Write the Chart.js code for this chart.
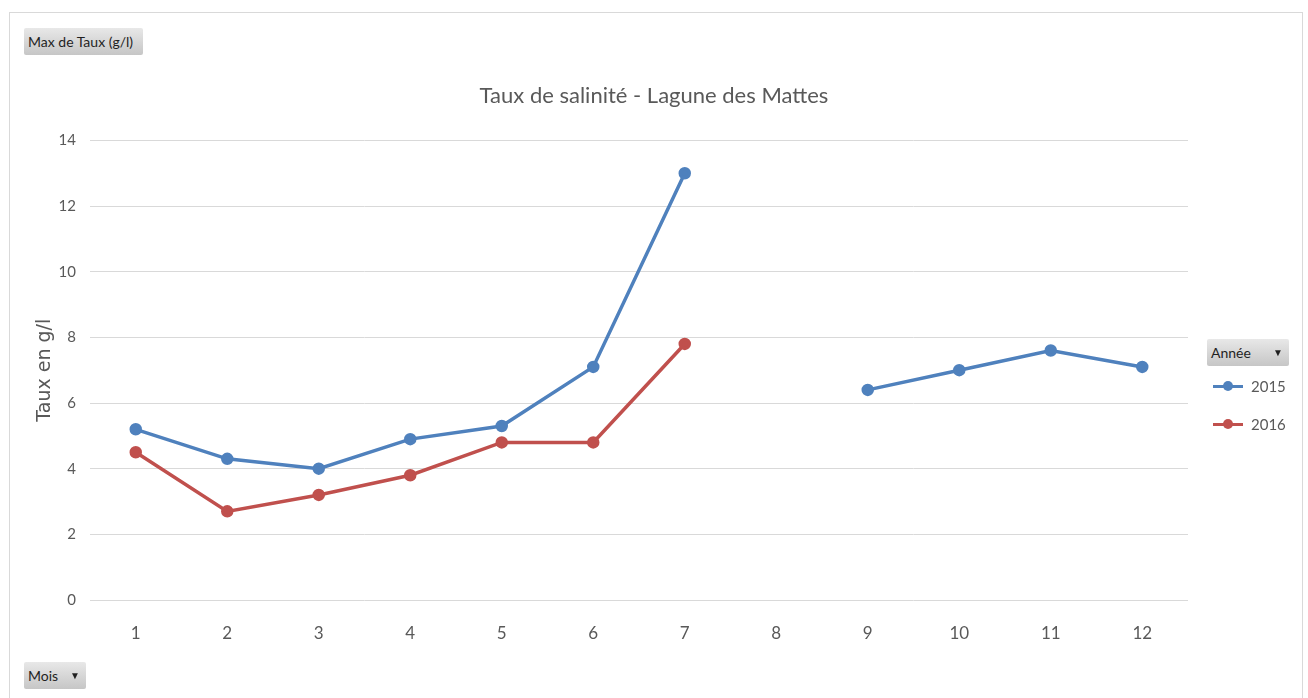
<!DOCTYPE html>
<html>
<head>
<meta charset="utf-8">
<script src="https://cdn.jsdelivr.net/npm/chart.js@4"></script>
<style>
    body { margin: 0; background: #fff; width: 1308px; height: 698px; overflow: hidden; position: relative; font-family: Lato, "Open Sans", sans-serif; }
    #cadre { position: absolute; left: 9px; top: 12px; width: 1292px; height: 700px; border: 1px solid #d9d9d9; border-bottom: none; }
    canvas { position: absolute; left: 0; top: 0; }
    .bouton {
        position: absolute; height: 27px; line-height: 27px; font-size: 14px; color: #1f1f1f; white-space: nowrap;
        background: linear-gradient(#e8e8e8, #c6c6c6); border-radius: 2px; padding: 0 4px; box-sizing: border-box;
    }
    .bouton .fleche { position: absolute; right: 6px; font-size: 10px; }
    #legende { position: absolute; left: 1213px; top: 367px; font-size: 15px; color: #595959; }
    #legende .item { height: 38px; display: flex; align-items: center; }
    #legende .trait { position: relative; width: 30px; height: 3px; margin-right: 8px; }
    #legende .trait span { position: absolute; left: 10px; top: -3.5px; width: 10px; height: 10px; border-radius: 50%; }
</style>
</head>
<body>
<div id="cadre"></div>
<canvas id="graficaTaux" width="1308" height="698"></canvas>
<div class="bouton" style="left:24px; top:28px; width:119px;">Max de Taux (g/l)</div>
<div class="bouton" style="left:24px; top:662px; width:62px;">Mois<span class="fleche">&#9660;</span></div>
<div class="bouton" style="left:1207px; top:339px; width:82px;">Année<span class="fleche">&#9660;</span></div>
<div id="legende"></div>
<script>
const mois = ["1", "2", "3", "4", "5", "6", "7", "8", "9", "10", "11", "12"];
const taux2015 = [5.2, 4.3, 4.0, 4.9, 5.3, 7.1, 13.0, null, 6.4, 7.0, 7.6, 7.1];
const taux2016 = [4.5, 2.7, 3.2, 3.8, 4.8, 4.8, 7.8, null, null, null, null, null];
const ticksY = [0, 2, 4, 6, 8, 10, 12, 14];

const gris = "#595959";
const police = "Lato, 'Open Sans', sans-serif";

function serie(label, valeurs, couleur) {
    return {
        label: label,
        data: valeurs,
        borderColor: couleur,
        backgroundColor: couleur,
        borderWidth: 3.5,
        pointRadius: 4.5,
        pointHoverRadius: 4.5,
        tension: 0,
        spanGaps: false
    };
}

// legende html a droite, construite depuis les datasets
const legendeHtml = {
    id: "legendeHtml",
    afterUpdate(chart) {
        const box = document.getElementById("legende");
        box.innerHTML = "";
        chart.data.datasets.forEach(ds => {
            const item = document.createElement("div");
            item.className = "item";
            item.innerHTML = '<div class="trait" style="background:' + ds.borderColor + '"><span style="background:' + ds.borderColor + '"></span></div>' + ds.label;
            box.appendChild(item);
        });
    }
};

const ctx = document.getElementById("graficaTaux").getContext("2d");

new Chart(ctx, {
    type: "line",
    data: {
        labels: mois,
        datasets: [
            serie("2015", taux2015, "#4f81bd"),
            serie("2016", taux2016, "#c0504d")
        ]
    },
    plugins: [legendeHtml],
    options: {
        responsive: false,
        animation: false,
        layout: { padding: 0 },
        plugins: {
            legend: { display: false },
            tooltip: { enabled: false },
            title: {
                display: true,
                text: "Taux de salinité - Lagune des Mattes",
                color: gris,
                font: { family: police, size: 22, weight: "normal" },
                padding: { top: 83, bottom: 31 }
            }
        },
        scales: {
            x: {
                offset: true,
                grid: { display: false, drawTicks: false },
                border: { display: false },
                ticks: { color: gris, font: { family: police, size: 17 }, padding: 23, maxRotation: 0 },
                afterFit(scale) { scale.height = 98; }
            },
            y: {
                min: 0,
                max: 14,
                afterBuildTicks(scale) { scale.ticks = ticksY.map(v => ({ value: v })); },
                grid: { color: "#d9d9d9", lineWidth: 1, drawTicks: false },
                border: { display: false },
                ticks: { color: gris, font: { family: police, size: 15 }, padding: 14 },
                title: {
                    display: true,
                    text: "Taux en g/l",
                    color: gris,
                    font: { family: "'DejaVu Sans', sans-serif", size: 19 },
                    padding: { top: 34, bottom: 0 }
                },
                afterFit(scale) { scale.width = 90; }
            },
            // axe vide a droite pour laisser la place de la legende
            marge: {
                position: "right",
                display: true,
                grid: { display: false, drawTicks: false },
                border: { display: false },
                ticks: { display: false },
                afterFit(scale) { scale.width = 120; }
            }
        }
    }
});
</script>
</body>
</html>
